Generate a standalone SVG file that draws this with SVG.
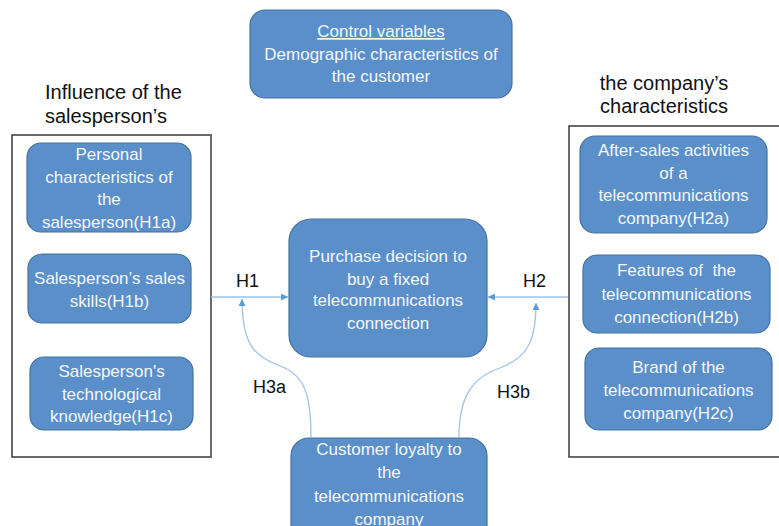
<svg xmlns="http://www.w3.org/2000/svg" width="779" height="526" viewBox="0 0 779 526">
<defs>
<style>
.box{fill:#5A8FCA;stroke:#44729F;stroke-width:1.2}
.bt{font-family:"Liberation Sans",Arial,sans-serif;font-size:17px;fill:#F4F7FB;text-anchor:middle}
.hd{font-family:"Liberation Sans",Arial,sans-serif;font-size:20px;fill:#111}
.lb{font-family:"Liberation Sans",Arial,sans-serif;font-size:18px;fill:#111}
.frame{fill:none;stroke:#3a3a3a;stroke-width:1.5}
.con{fill:none;stroke:#9DC3E6;stroke-width:1.3}
</style>
<marker id="ah" viewBox="0 0 10 10" refX="10" refY="5" markerWidth="7" markerHeight="7" markerUnits="userSpaceOnUse" orient="auto">
<path d="M0,0 L10,5 L0,10 z" fill="#5B9BD5"/>
</marker>
</defs>
<rect width="779" height="526" fill="#fff"/>

<g id="frames">
<rect class="frame" x="12" y="135" width="199" height="322"/>
<path class="frame" d="M790,126 L569,126 L569,457 L790,457"/>
</g>

<g id="headings">
<text class="hd" x="45" y="99">Influence of the</text>
<text class="hd" x="45" y="123">salesperson’s</text>
<text class="hd" x="664" y="90" text-anchor="middle">the company’s</text>
<text class="hd" x="664" y="113" text-anchor="middle">characteristics</text>
</g>

<g id="control">
<rect class="box" x="250" y="10" width="262" height="88" rx="15"/>
<text class="bt" x="381" y="37" text-decoration="underline">Control variables</text>
<text class="bt" x="381" y="60">Demographic characteristics of</text>
<text class="bt" x="381" y="82">the customer</text>
</g>

<g id="h1a">
<rect class="box" x="27" y="143" width="164" height="89" rx="14"/>
<text class="bt" x="109" y="160">Personal</text>
<text class="bt" x="109" y="182.5">characteristics of</text>
<text class="bt" x="109" y="205">the</text>
<text class="bt" x="109" y="227.5">salesperson(H1a)</text>
</g>

<g id="h1b">
<rect class="box" x="28" y="254" width="163" height="69" rx="14"/>
<text class="bt" x="109.5" y="284">Salesperson’s sales</text>
<text class="bt" x="109.5" y="307">skills(H1b)</text>
</g>

<g id="h1c">
<rect class="box" x="30" y="357" width="163" height="73" rx="14"/>
<text class="bt" x="111.5" y="377">Salesperson's</text>
<text class="bt" x="111.5" y="399.5">technological</text>
<text class="bt" x="111.5" y="422">knowledge(H1c)</text>
</g>

<g id="decision">
<rect class="box" x="289" y="219" width="198" height="138" rx="22"/>
<text class="bt" x="388" y="262">Purchase decision to</text>
<text class="bt" x="388" y="284.5">buy a fixed</text>
<text class="bt" x="388" y="306">telecommunications</text>
<text class="bt" x="388" y="328.5">connection</text>
</g>

<g id="loyalty">
<rect class="box" x="291" y="438" width="196" height="110" rx="18"/>
<text class="bt" x="389" y="455">Customer loyalty to</text>
<text class="bt" x="389" y="478">the</text>
<text class="bt" x="389" y="502">telecommunications</text>
<text class="bt" x="389" y="525">company</text>
</g>

<g id="h2a">
<rect class="box" x="580" y="136" width="187" height="97" rx="15"/>
<text class="bt" x="673.5" y="156">After-sales activities</text>
<text class="bt" x="673.5" y="178.5">of a</text>
<text class="bt" x="673.5" y="201">telecommunications</text>
<text class="bt" x="673.5" y="223.5">company(H2a)</text>
</g>

<g id="h2b">
<rect class="box" x="583" y="255" width="187" height="78" rx="14"/>
<text class="bt" x="676.5" y="276" xml:space="preserve">Features of  the</text>
<text class="bt" x="676.5" y="299.5">telecommunications</text>
<text class="bt" x="676.5" y="323">connection(H2b)</text>
</g>

<g id="h2c">
<rect class="box" x="585" y="348" width="187" height="82" rx="14"/>
<text class="bt" x="678.5" y="373">Brand of the</text>
<text class="bt" x="678.5" y="396">telecommunications</text>
<text class="bt" x="678.5" y="419">company(H2c)</text>
</g>

<g id="connectors">
<path class="con" d="M211,297 L288,297" marker-end="url(#ah)"/>
<path class="con" d="M568,297 L488,297" marker-end="url(#ah)"/>
<path class="con" d="M311,437 C311,395 305,375 280,366 C255,357 242,345 242,299" marker-end="url(#ah)"/>
<path class="con" d="M459,437 C459,400 470,378 500,368 C525,358 536,345 536,303" marker-end="url(#ah)"/>
</g>

<g id="labels">
<text class="lb" x="236" y="287">H1</text>
<text class="lb" x="523" y="287">H2</text>
<text class="lb" x="253" y="393">H3a</text>
<text class="lb" x="497" y="398">H3b</text>
</g>
</svg>
